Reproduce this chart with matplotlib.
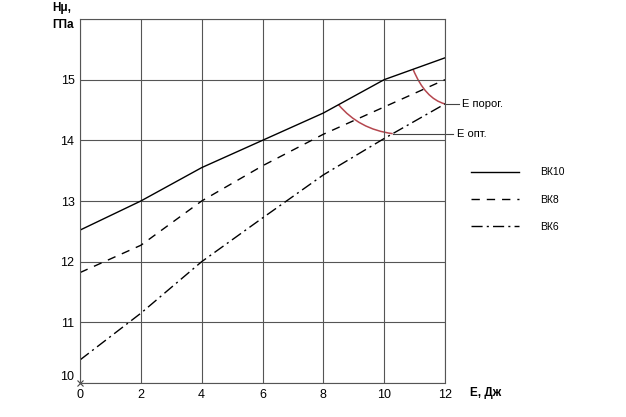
import matplotlib
matplotlib.use("Agg")
import matplotlib.pyplot as plt
import numpy as np
from matplotlib.path import Path
from matplotlib.patches import PathPatch

plt.rcParams['font.family'] = ['Liberation Sans', 'DejaVu Sans']

## data
energy = [0, 2, 4, 6, 8, 10, 12]
vk10 = [12.52, 13.0, 13.55, 14.0, 14.45, 15.0, 15.36]
vk8 = [11.82, 12.27, 13.0, 13.58, 14.1, 14.55, 15.0]
vk6 = [10.38, 11.15, 12.0, 12.72, 13.43, 14.03, 14.6]
labels = ["ВК10", "ВК8", "ВК6"]

## where the red arcs meet the VK10 and VK6 curves
e_porog = [10.95, 12.0]
e_opt = [8.5, 10.28]

xticks = [0, 2, 4, 6, 8, 10, 12]
yticks = [10, 11, 12, 13, 14, 15]

fig = plt.figure(figsize=(6.26, 4.17), dpi=100)
ax = fig.add_axes([80/626, 1-383/417, 365/626, 364/417])

ax.set_xlim(0, 12)
ax.set_ylim(10, 16)
ax.set_xticks(xticks)
ax.set_yticks(yticks + [16])
ax.set_yticklabels([str(v) for v in yticks] + [""])
ax.set_xticklabels([str(v) for v in xticks])
ax.grid(True, color="#555555", linewidth=0.8)
ax.tick_params(length=0, labelsize=9, pad=4)
for s in ax.spines.values():
    s.set_color("#555555")
    s.set_linewidth(0.8)
ax.get_yticklabels()[0].set_va("bottom")

l1, = ax.plot(energy, vk10, color="black", lw=1.0, label=labels[0])
l2, = ax.plot(energy, vk8, color="black", lw=1.0, ls=(0, (6, 5)), label=labels[1])
l3, = ax.plot(energy, vk6, color="black", lw=1.0, ls=(0, (8, 3, 1.5, 3)), label=labels[2])

ax.plot([0], [10], marker="x", color="#444444", ms=4, mew=0.8, clip_on=False)

## red arcs between the VK10 and VK6 curves
def arc(xs):
    x0, x1 = xs
    y0 = np.interp(x0, energy, vk10)
    y1 = np.interp(x1, energy, vk6)
    cx = x0 + 0.38 * (x1 - x0)
    cy = y1 + 0.15 * (y0 - y1)
    p = Path([(x0, y0), (cx, cy), (x1, y1)], [Path.MOVETO, Path.CURVE3, Path.CURVE3])
    ax.add_patch(PathPatch(p, fc="none", ec="#b5474f", lw=1.1, clip_on=False))
    return x1, y1

xp, yp = arc(e_porog)
xo, yo = arc(e_opt)

ax.plot([xp, xp + 0.45], [yp, yp], color="#444444", lw=0.8, clip_on=False)
ax.text(xp + 0.57, yp, "E порог.", fontsize=8, va="center", ha="left")
ax.plot([xo, 12.25], [yo, yo], color="#444444", lw=0.8, clip_on=False)
ax.text(12.4, yo, "E опт.", fontsize=8, va="center", ha="left")

fig.legend(handles=[l1, l2, l3], loc="upper left", bbox_to_anchor=(462/626, 1-158/417),
           frameon=False, fontsize=7.5, handlelength=4.6, handletextpad=2.0,
           labelspacing=1.65)

fig.text(52/626, 1-2/417, "Hμ,\nГПа", fontsize=8.5, fontweight="bold",
         va="top", ha="left", linespacing=1.5)
fig.text(470/626, 1-393/417, "E, Дж", fontsize=8.5, fontweight="bold",
         va="center", ha="left")

fig.savefig("out.png", dpi=100)
